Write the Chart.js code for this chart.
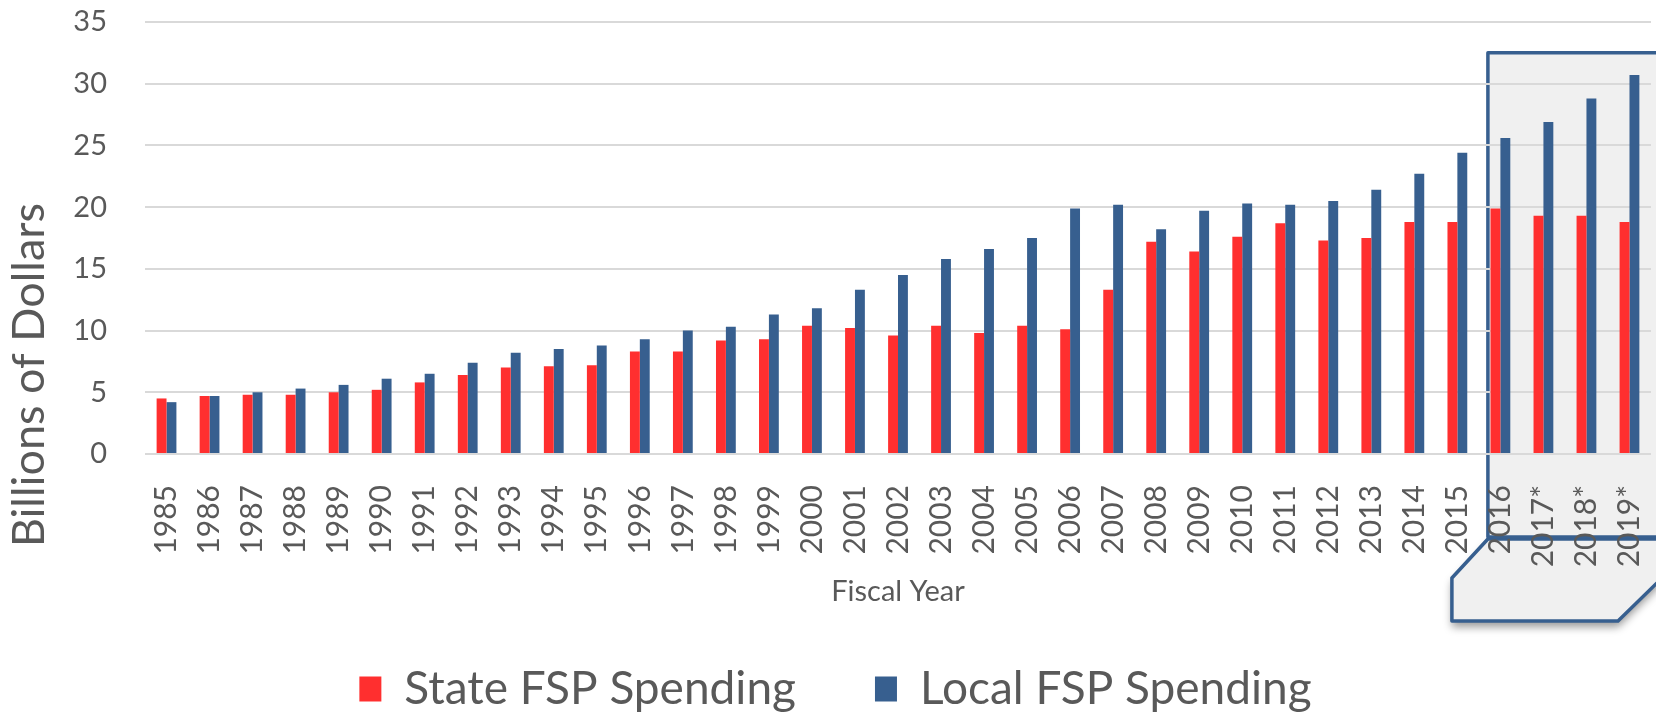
<!DOCTYPE html>
<html>
<head>
<meta charset="utf-8">
<script src="https://cdn.jsdelivr.net/npm/chart.js@4/dist/chart.umd.min.js"></script>
<style>
  html, body { margin: 0; padding: 0; background: #ffffff; }
  #wrap { width: 1656px; height: 717px; position: relative; }
</style>
</head>
<body>
<div id="wrap"><canvas id="c" width="1656" height="717"></canvas></div>
<script>
const years = ['1985','1986','1987','1988','1989','1990','1991','1992','1993','1994','1995','1996','1997','1998','1999','2000','2001','2002','2003','2004','2005','2006','2007','2008','2009','2010','2011','2012','2013','2014','2015','2016','2017*','2018*','2019*'];
const stateSpending = [4.5,4.7,4.8,4.8,5.0,5.2,5.8,6.4,7.0,7.1,7.2,8.3,8.3,9.2,9.3,10.4,10.2,9.6,10.4,9.8,10.4,10.1,13.3,17.2,16.4,17.6,18.7,17.3,17.5,18.8,18.8,19.9,19.3,19.3,18.8];
const localSpending = [4.2,4.7,5.0,5.3,5.6,6.1,6.5,7.4,8.2,8.5,8.8,9.3,10.0,10.3,11.3,11.8,13.3,14.5,15.8,16.6,17.5,19.9,20.2,18.2,19.7,20.3,20.2,20.5,21.4,22.7,24.4,25.6,26.9,28.8,30.7];
const yTicks = [0,5,10,15,20,25,30,35];
const seriesNames = ['State FSP Spending','Local FSP Spending'];
const yTitle = 'Billions of Dollars';
const xTitle = 'Fiscal Year';

const FONT = 'Lato, "Open Sans", sans-serif';
const GRAY = '#595959';
const RED = '#FF2F2F';
const BLUE = '#375F8F';

const highlightPlugin = {
  id: 'highlight',
  beforeDraw(chart) {
    const ctx = chart.ctx;
    const xs = chart.scales.x;
    const ys = chart.scales.y;
    const left = xs.getPixelForValue(31) - 12.5;
    const top = ys.getPixelForValue(32.5);
    const right = chart.width + 4;
    const bottom = 537;
    ctx.save();
    ctx.shadowColor = 'rgba(0,0,0,0.4)';
    ctx.shadowBlur = 8;
    ctx.shadowOffsetY = 6;
    ctx.beginPath();
    ctx.moveTo(left, bottom + 2);
    ctx.lineTo(left - 36, 578);
    ctx.lineTo(left - 36, 621);
    ctx.lineTo(1618, 621);
    ctx.lineTo(right, 580);
    ctx.lineTo(right, bottom + 2);
    ctx.closePath();
    ctx.fillStyle = '#F0F0F0';
    ctx.fill();
    ctx.shadowColor = 'transparent';
    ctx.lineWidth = 3.5;
    ctx.strokeStyle = BLUE;
    ctx.lineJoin = 'round';
    ctx.stroke();
    ctx.beginPath();
    ctx.rect(left, top, right - left, bottom - top);
    ctx.fillStyle = '#F0F0F0';
    ctx.fill();
    ctx.lineWidth = 3.5;
    ctx.strokeStyle = BLUE;
    ctx.stroke();
    ctx.restore();
  },
  afterDraw(chart) {
    const ctx = chart.ctx;
    ctx.save();
    ctx.translate(29, 375);
    ctx.rotate(-Math.PI / 2);
    ctx.font = '45px ' + FONT;
    ctx.fillStyle = GRAY;
    ctx.textAlign = 'center';
    ctx.textBaseline = 'middle';
    ctx.fillText(yTitle, 0, 0);
    ctx.restore();
  }
};

new Chart(document.getElementById('c'), {
  type: 'bar',
  data: {
    labels: years,
    datasets: [
      { label: seriesNames[0], data: stateSpending, backgroundColor: RED, categoryPercentage: 0.46, barPercentage: 1.0 },
      { label: seriesNames[1], data: localSpending, backgroundColor: BLUE, categoryPercentage: 0.46, barPercentage: 1.0 }
    ]
  },
  options: {
    responsive: false,
    animation: false,
    devicePixelRatio: 1,
    layout: { padding: { top: 22, left: 20, right: 5, bottom: -5 } },
    plugins: {
      legend: {
        position: 'bottom',
        align: 'center',
        labels: {
          boxWidth: 22,
          boxHeight: 25,
          padding: 79,
          color: GRAY,
          font: { family: FONT, size: 46 }
        }
      },
      tooltip: { enabled: false }
    },
    scales: {
      x: {
        grid: { display: false },
        border: { display: false },
        ticks: {
          color: GRAY,
          font: { family: FONT, size: 30 },
          minRotation: 90,
          maxRotation: 90,
          autoSkip: false,
          padding: 23
        },
        title: {
          display: true,
          text: xTitle,
          color: GRAY,
          font: { family: FONT, size: 29 },
          padding: { top: 0, bottom: -22 }
        },
        afterFit(scale) {
          scale.height = 133;
          scale.paddingLeft = 0;
          scale.paddingRight = 0;
        }
      },
      y: {
        min: 0,
        max: 35,
        grid: { color: '#D9D9D9', lineWidth: 2, drawTicks: false },
        border: { display: false },
        afterBuildTicks(scale) { scale.ticks = yTicks.map(v => ({ value: v })); },
        ticks: {
          color: GRAY,
          font: { family: FONT, size: 29 },
          padding: 38
        },
        afterFit(scale) {
          scale.width = 125;
          scale.paddingTop = 0;
          scale.paddingBottom = 0;
        }
      }
    }
  },
  plugins: [highlightPlugin]
});
</script>
</body>
</html>
